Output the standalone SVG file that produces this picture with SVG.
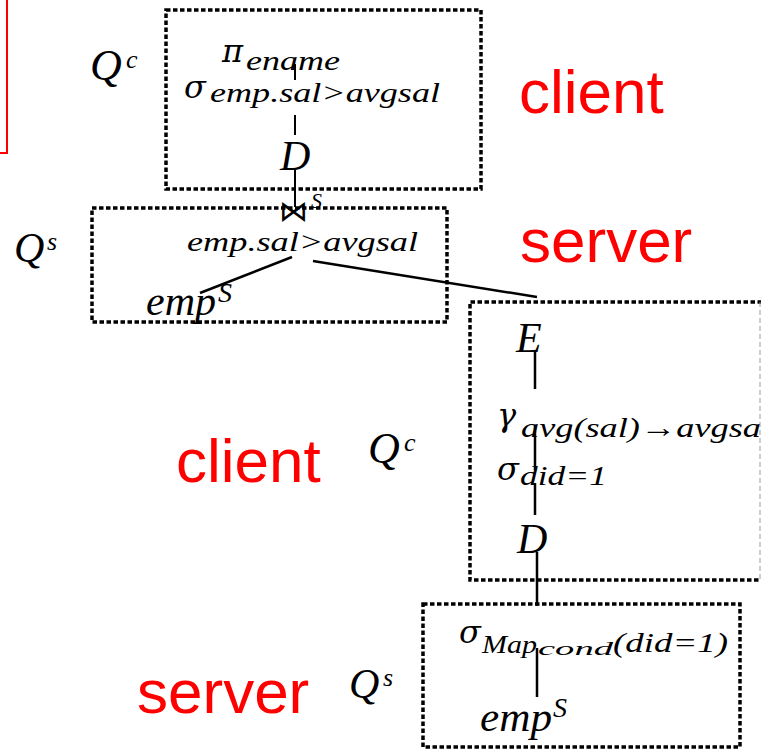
<svg xmlns="http://www.w3.org/2000/svg" width="761" height="751" viewBox="0 0 761 751">
<style>
.bg{fill:#ffffff}
.box{fill:none;stroke:#000;stroke-width:3.5;stroke-dasharray:4.5 2.5}
.grey{fill:none;stroke:#999;stroke-width:1;stroke-dasharray:5 3}
.m{font-family:"Liberation Serif","DejaVu Serif",serif;font-style:italic;fill:#000}
.g{font-family:"DejaVu Serif",serif;font-style:italic;fill:#000}
.sym{font-family:"DejaVu Sans",sans-serif;fill:#000}
.red{font-family:"Liberation Sans",Arial,sans-serif;fill:#ff0000;font-size:62px}
.edge{stroke:#000;stroke-width:2.5;fill:none}
.edge2{stroke:#000;stroke-width:2;fill:none}
</style>
<rect class="bg" x="0" y="0" width="761" height="751"/>
<rect x="-10" y="-10" width="17" height="163" fill="none" stroke="#ff0000" stroke-width="2"/>

<g id="labels">
<text class="red" x="519" y="113">client</text>
<text class="red" x="520" y="262">server</text>
<text class="red" x="176" y="482">client</text>
<text class="red" x="137" y="713">server</text>
</g>

<g id="box-qc-top">
<rect class="box" x="166" y="10" width="315" height="179"/>
<text class="m" x="90" y="80" font-size="44">Q</text>
<text class="m" x="126" y="68" font-size="26">c</text>
</g>
<g id="box-qs-top">
<rect class="box" x="92" y="208" width="355" height="114"/>
<text class="m" x="14" y="262" font-size="42">Q</text>
<text class="m" x="47" y="250" font-size="26">s</text>
</g>
<g id="box-qc-bottom">
<path class="box" d="M762,302 H470 V580 H762"/>
<line class="grey" x1="760" y1="302" x2="760" y2="580"/>
<text class="m" x="368" y="463" font-size="44">Q</text>
<text class="m" x="404" y="451" font-size="26">c</text>
</g>
<g id="box-qs-bottom">
<rect class="box" x="423" y="604" width="317" height="143"/>
<text class="m" x="349" y="698" font-size="42">Q</text>
<text class="m" x="383" y="686" font-size="26">s</text>
</g>

<g id="connectors">
<line class="edge2" x1="295" y1="64" x2="295" y2="80"/>
<line class="edge2" x1="295" y1="115" x2="295" y2="135"/>
<line class="edge2" x1="295" y1="170" x2="295" y2="207"/>
<line class="edge" x1="292" y1="257" x2="200" y2="293"/>
<line class="edge" x1="313" y1="261" x2="537" y2="297"/>
<line class="edge" x1="535" y1="352" x2="535" y2="389"/>
<line class="edge" x1="535" y1="425" x2="535" y2="470"/>
<line class="edge" x1="535" y1="483" x2="535" y2="515"/>
<line class="edge" x1="537" y1="552" x2="537" y2="606"/>
<line class="edge" x1="537" y1="648" x2="537" y2="697"/>
</g>

<g id="node-project">
<text class="g" x="222" y="62" font-size="32">π</text>
<text class="m" x="246" y="70" font-size="28" textLength="94" lengthAdjust="spacingAndGlyphs">ename</text>
</g>
<g id="node-select-top">
<text class="g" x="184" y="98" font-size="32">σ</text>
<text class="m" x="210" y="102" font-size="27" textLength="230" lengthAdjust="spacingAndGlyphs">emp.sal&gt;avgsal</text>
</g>
<g id="node-d-top">
<text class="m" x="280" y="170" font-size="42">D</text>
</g>
<g id="node-join">
<text class="sym" x="279" y="221" font-size="29">⋈</text>
<text class="m" x="311" y="208" font-size="22">S</text>
<text class="m" x="187" y="251" font-size="27" textLength="231" lengthAdjust="spacingAndGlyphs">emp.sal&gt;avgsal</text>
</g>
<g id="node-emp-top">
<text class="m" x="146" y="315" font-size="40" textLength="70" lengthAdjust="spacingAndGlyphs">emp</text>
<text class="m" x="218" y="302" font-size="28">S</text>
</g>
<g id="node-e">
<text class="m" x="516" y="352" font-size="42">E</text>
</g>
<g id="node-gamma">
<text class="g" x="497" y="426" font-size="32">γ</text>
<text class="m" x="521" y="437" font-size="28" textLength="250" lengthAdjust="spacingAndGlyphs">avg(sal)→avgsal</text>
</g>
<g id="node-select-did">
<text class="g" x="497" y="480" font-size="32">σ</text>
<text class="m" x="520" y="485" font-size="28" textLength="87" lengthAdjust="spacingAndGlyphs">did=1</text>
</g>
<g id="node-d-bottom">
<text class="m" x="517" y="553" font-size="42">D</text>
</g>
<g id="node-select-map">
<text class="g" x="459" y="643" font-size="32">σ</text>
<text class="m" x="482" y="653" font-size="26" textLength="55" lengthAdjust="spacingAndGlyphs">Map</text>
<text class="m" x="538" y="655" font-size="19" textLength="75" lengthAdjust="spacingAndGlyphs">cond</text>
<text class="m" x="613" y="652" font-size="27" textLength="115" lengthAdjust="spacingAndGlyphs">(did=1)</text>
</g>
<g id="node-emp-bottom">
<text class="m" x="480" y="731" font-size="40" textLength="72" lengthAdjust="spacingAndGlyphs">emp</text>
<text class="m" x="553" y="717" font-size="28">S</text>
</g>
</svg>
